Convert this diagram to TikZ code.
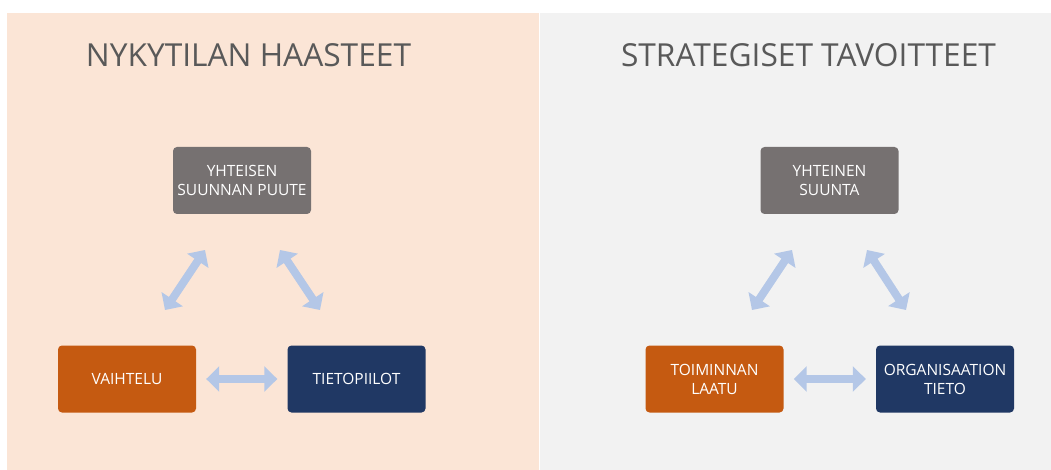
\documentclass[tikz,border=0pt]{standalone}
\usepackage{fontspec}
\setmainfont{Open Sans}
\usetikzlibrary{arrows.meta}
\definecolor{peach}{HTML}{FBE5D6}
\definecolor{panelgray}{HTML}{F2F2F2}
\definecolor{boxgray}{HTML}{767171}
\definecolor{boxorange}{HTML}{C55A11}
\definecolor{boxnavy}{HTML}{203864}
\definecolor{arrowblue}{HTML}{B4C7E7}
\definecolor{titlegray}{HTML}{595959}
\begin{document}
\begin{tikzpicture}[x=1pt,y=-1pt,
  box/.style={rounded corners=4pt, minimum width=138pt, minimum height=67pt,
    text=white, font=\fontsize{15.5}{19}\selectfont, align=center, inner sep=0pt},
  heading/.style={text=titlegray, font=\fontsize{31.7}{36}\selectfont, anchor=base},
  dbl/.style={draw=arrowblue, line width=8pt,
    {Triangle[width=25pt,length=13pt]}-{Triangle[width=25pt,length=13pt]}}]
\useasboundingbox (0,0) rectangle (1051,470);
\fill[white] (0,0) rectangle (1051,470);
% two panels
\fill[peach] (7,13) rectangle (538.5,470);
\fill[panelgray] (540,13) rectangle (1051,470);

% headings
\node[heading] (hleft) at (248.5,67) {NYKYTILAN HAASTEET};
\node[heading] (hright) at (808.5,67) {STRATEGISET TAVOITTEET};

% left triangle of boxes
\node[box, fill=boxgray] (suunta1) at (242,180.5) {YHTEISEN\\SUUNNAN PUUTE};
\node[box, fill=boxorange] (vaihtelu) at (127,379) {VAIHTELU};
\node[box, fill=boxnavy] (siilot) at (356.5,379) {TIETOPIILOT};

% right triangle of boxes
\node[box, fill=boxgray] (suunta2) at (829.5,180.5) {YHTEINEN\\SUUNTA};
\node[box, fill=boxorange] (laatu) at (714.5,379) {TOIMINNAN\\LAATU};
\node[box, fill=boxnavy] (tieto) at (945,379) {ORGANISAATION\\TIETO};

% arrow ends
\coordinate (l1a) at (165,310);
\coordinate (l1b) at (205,250);
\coordinate (l2a) at (280,250);
\coordinate (l2b) at (320,310);
\coordinate (r1a) at (752,310);
\coordinate (r1b) at (792,250);
\coordinate (r2a) at (867,250);
\coordinate (r2b) at (906,310);

% connectors
\draw[dbl] (l1a) -- (l1b);
\draw[dbl] (l2a) -- (l2b);
\draw[dbl, shorten <=10pt, shorten >=10pt] (vaihtelu) -- (siilot);
\draw[dbl] (r1a) -- (r1b);
\draw[dbl] (r2a) -- (r2b);
\draw[dbl, shorten <=10pt, shorten >=10pt] (laatu) -- (tieto);
\end{tikzpicture}
\end{document}
